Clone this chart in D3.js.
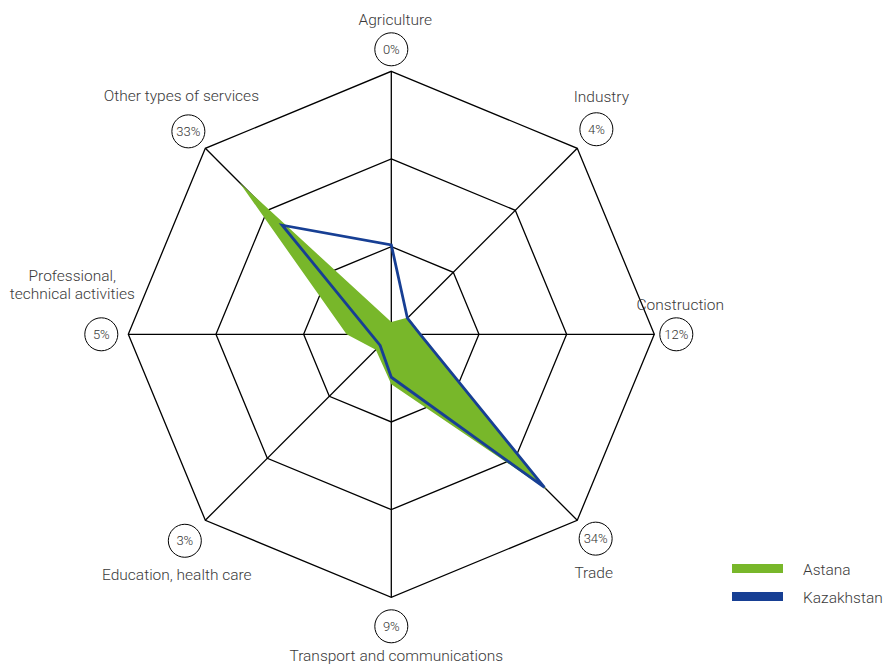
<!DOCTYPE html>
<html>
<head>
<meta charset="utf-8">
<script src="https://cdn.jsdelivr.net/npm/d3@7/dist/d3.min.js"></script>
<style>
  html, body { margin: 0; padding: 0; background: #fff; }
  svg { display: block; }
  text { font-family: Roboto, "Noto Sans", sans-serif; }
</style>
</head>
<body>
<svg id="chart" width="886" height="664"></svg>
<script>
// ---- data ----
const categories = [
  "Agriculture", "Industry", "Construction", "Trade",
  "Transport and communications", "Education, health care",
  "Professional,\ntechnical activities", "Other types of services"
];
const shareLabels = ["0%", "4%", "12%", "34%", "9%", "3%", "5%", "33%"];
const astana     = [1.4, 2.7, 3.4, 25.0, 5.7, 2.5, 5.1, 24.5];
const kazakhstan = [10.2, 2.6, 3.3, 24.7, 4.9, 1.8, 2.3, 17.6];
const seriesNames = ["Astana", "Kazakhstan"];
const ringLevels = [10, 20, 30];

// ---- layout ----
const cx = 391.3, cy = 334.3, R = 263;
const green = "#78b72a", blue = "#173f94";
const svg = d3.select("#chart");
const r = d3.scaleLinear().domain([0, 30]).range([0, R]);
const n = categories.length;
const angle = i => (i * 2 * Math.PI) / n; // clockwise from top
const pt = (i, v) => [cx + r(v) * Math.sin(angle(i)), cy - r(v) * Math.cos(angle(i))];

const g = svg.append("g");

// grid rings
ringLevels.forEach(lv => {
  g.append("path")
    .attr("d", d3.line()(d3.range(n).map(i => pt(i, lv))) + "Z")
    .attr("fill", "none").attr("stroke", "#000").attr("stroke-width", 1.3);
});
// spokes
d3.range(n).forEach(i => {
  const p = pt(i, ringLevels[ringLevels.length - 1]);
  g.append("line").attr("x1", cx).attr("y1", cy).attr("x2", p[0]).attr("y2", p[1])
    .attr("stroke", "#000").attr("stroke-width", 1.3);
});

// Astana area
g.append("path")
  .attr("d", d3.line()(astana.map((v, i) => pt(i, v))) + "Z")
  .attr("fill", green).attr("stroke", "none");

// Kazakhstan line
g.append("path")
  .attr("d", d3.line()(kazakhstan.map((v, i) => pt(i, v))) + "Z")
  .attr("fill", "none").attr("stroke", blue).attr("stroke-width", 2.8)
  .attr("stroke-linejoin", "miter");

// labels
const circleGap = [22, 27, 22, 26, 29, 29, 27, 24];
const textOffset = [[4, -24], [5, -27], [4, -24], [-2, 39], [5, 35], [-8, 39], [-29, -53], [-7, -30.5]];
categories.forEach((c, i) => {
  const rr = R + circleGap[i];
  const px = cx + rr * Math.sin(angle(i)), py = cy - rr * Math.cos(angle(i));
  g.append("circle").attr("cx", px).attr("cy", py).attr("r", 16.5)
    .attr("fill", "#fff").attr("stroke", "#000").attr("stroke-width", 1);
  g.append("text").attr("x", px).attr("y", py + 4.6)
    .attr("text-anchor", "middle").attr("font-size", 13).attr("font-weight", 300)
    .attr("fill", "#333").text(shareLabels[i]);
  const lines = c.split("\n");
  lines.forEach((ln, k) => {
    g.append("text")
      .attr("x", px + textOffset[i][0]).attr("y", py + textOffset[i][1] + k * 18)
      .attr("text-anchor", "middle").attr("font-size", 15.5).attr("font-weight", 300)
      .attr("fill", "#3a3a3a").text(ln);
  });
});

// legend
const legColors = [green, blue];
seriesNames.forEach((s, k) => {
  const y = 564 + k * 28;
  svg.append("rect").attr("x", 732).attr("y", y).attr("width", 51).attr("height", 9)
    .attr("fill", legColors[k]);
  svg.append("text").attr("x", 803).attr("y", y + 11)
    .attr("font-size", 15.5).attr("font-weight", 300).attr("fill", "#3a3a3a").text(s);
});
</script>
</body>
</html>
